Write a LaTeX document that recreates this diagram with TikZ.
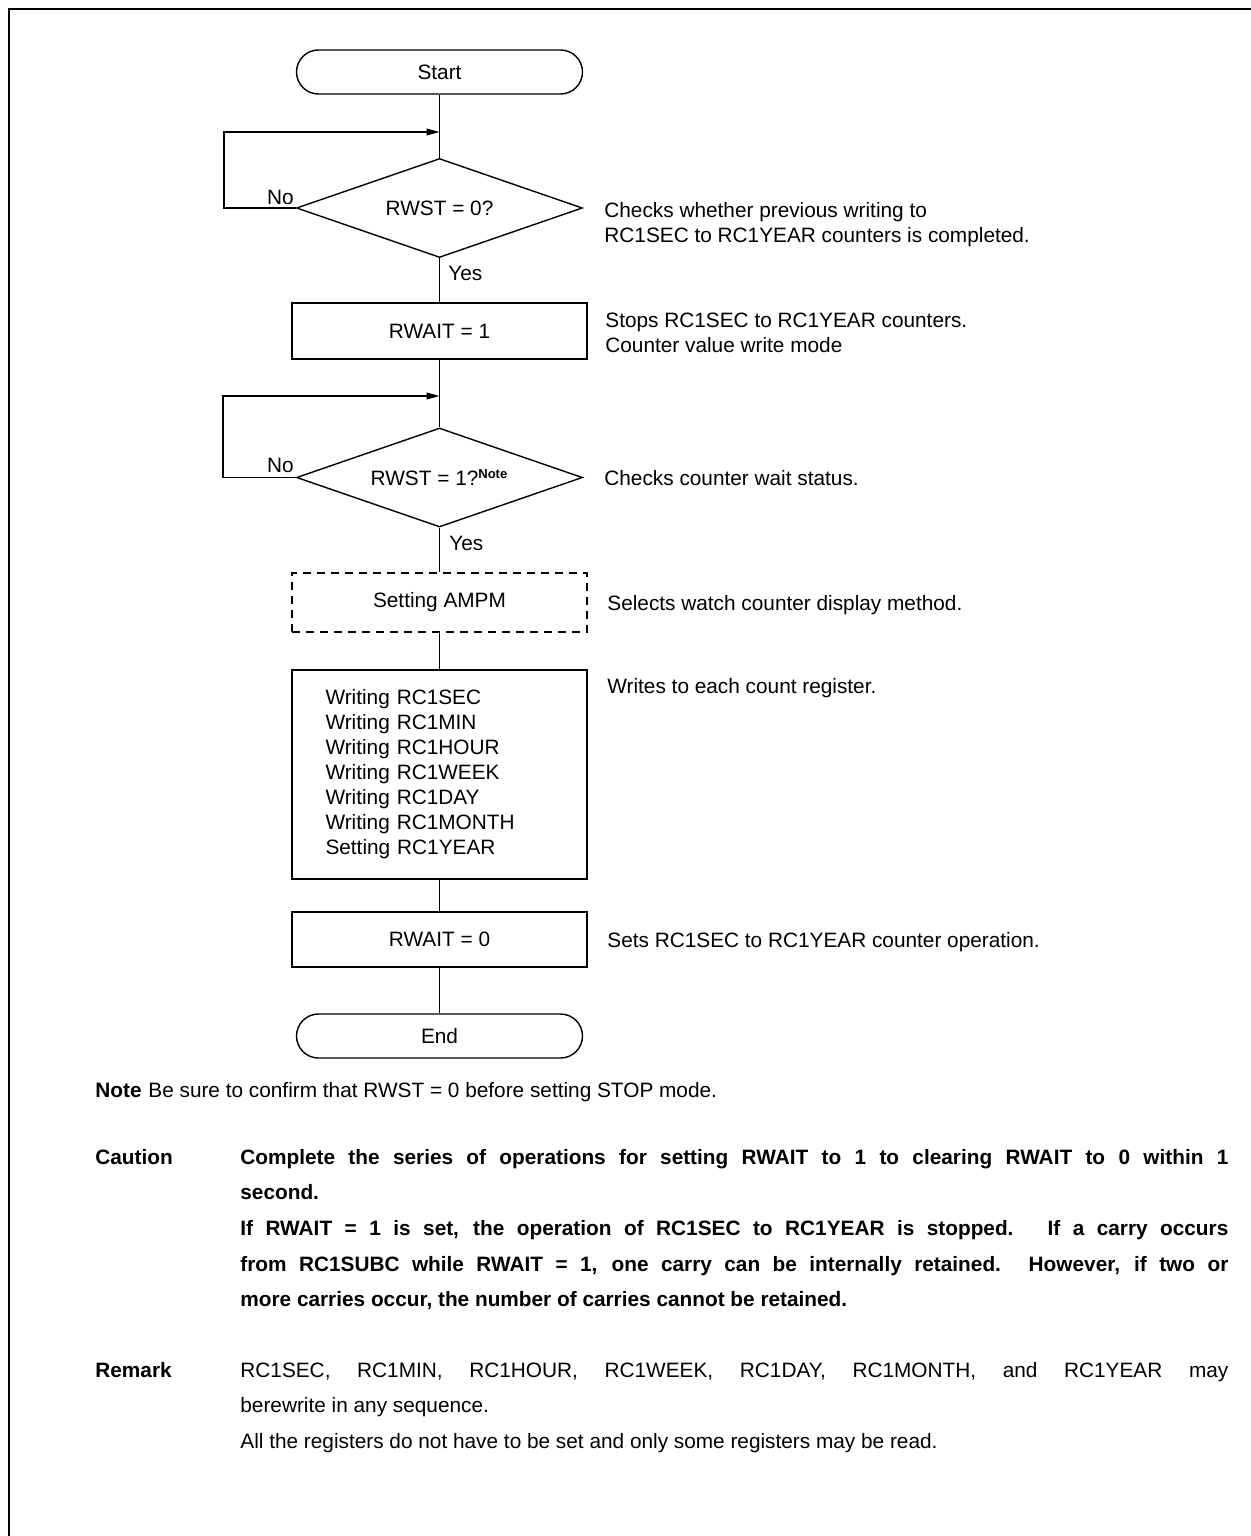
\documentclass[tikz,border=0pt]{standalone}
\usepackage{fontspec}
\setmainfont{Liberation Sans}
\usetikzlibrary{shapes.geometric,arrows.meta,calc}
\begin{document}
\begin{tikzpicture}[x=0.5pt,y=-0.5pt,
  every node/.style={font=\fontsize{10.4}{12.5}\selectfont, inner sep=0pt},
  flow/.style={line width=0.7pt},
  arr/.style={flow, -{Triangle[length=6.5pt,width=3.4pt]}},
  term/.style={draw, flow, minimum width=143pt, minimum height=22pt, rounded corners=11pt},
  dec/.style={draw, flow, diamond, shape aspect=2.9, minimum width=143pt, minimum height=49.5pt},
  proc/.style={draw, flow, minimum width=147.5pt, minimum height=28pt},
  dproc/.style={proc, dash pattern=on 4pt off 3pt, minimum height=29.5pt},
  ann/.style={anchor=base west},
  lbl/.style={anchor=base west, font=\fontsize{10.4}{12.5}\selectfont\bfseries},
  jline/.style={anchor=base west},
  bline/.style={anchor=base west, font=\fontsize{10.4}{12.5}\selectfont\bfseries}
]
\useasboundingbox (0,0) rectangle (1250,1536);
\draw[line width=1pt] (8.5,1560) -- (8.5,9.5) -- (1270,9.5);

% flowchart nodes
\node[term] (start) at (439.5,72) {Start};
\node[dec] (d1) at (439.5,208) {RWST = 0?};
\node[proc] (b1) at (439.5,331) {RWAIT = 1};
\node[dec] (d2) at (439.5,477.5) {RWST = 1?\textsuperscript{\fontsize{6.5}{6.5}\selectfont\bfseries Note}};
\node[dproc] (b2) at (439.5,602.5) {Setting AMPM};
\node[proc, minimum height=104.5pt, text width=114pt, inner xsep=16.75pt, align=left] (b3) at (439.5,774.5)
  {Writing RC1SEC\\Writing RC1MIN\\Writing RC1HOUR\\Writing RC1WEEK\\Writing RC1DAY\\Writing RC1MONTH\\Setting RC1YEAR};
\node[proc, minimum height=27.5pt] (b4) at (439.5,939.5) {RWAIT = 0};
\node[term] (end) at (439.5,1036) {End};

% connectors
\draw[flow] (start.south) -- (d1.north);
\draw[flow] (d1.south) -- (b1.north);
\draw[flow] (b1.south) -- (d2.north);
\draw[flow] (d2.south) -- (b2.north);
\draw[flow] (b2.south) -- (b3.north);
\draw[flow] (b3.south) -- (b4.north);
\draw[flow] (b4.south) -- (end.north);

% loops
\coordinate (c1) at (224,132);
\coordinate (c2) at (223,396);
\draw[arr] (d1.west) -- (d1.west -| c1) -- (c1) -- (c1 -| start.south);
\draw[arr] (d2.west) -- (d2.west -| c2) -- (c2) -- (c2 -| b1.south);

% branch labels
\node[anchor=base east] (no1) at (294,204) {No};
\node[anchor=base west] (yes1) at (448,280) {Yes};
\node[anchor=base east] (no2) at (294,472) {No};
\node[anchor=base west] (yes2) at (449,550) {Yes};

% annotations
\node[ann] (a1a) at (604,217) {Checks whether previous writing to};
\node[ann] (a1b) at (604,242) {RC1SEC to RC1YEAR counters is completed.};
\node[ann] (a2a) at (605,327) {Stops RC1SEC to RC1YEAR counters.};
\node[ann] (a2b) at (605,352) {Counter value write mode};
\node[ann] (a3) at (604,485) {Checks counter wait status.};
\node[ann] (a4) at (607,610) {Selects watch counter display method.};
\node[ann] (a5) at (607,693) {Writes to each count register.};
\node[ann] (a6) at (607,947) {Sets RC1SEC to RC1YEAR counter operation.};

% notes
\node[lbl] (notel) at (95,1097) {Note};
\node[jline] (notet) at (148,1097) {Be sure to confirm that RWST = 0 before setting STOP mode.};

\node[lbl] (cautl) at (95,1164) {Caution};
\node[bline] (c1l) at (240,1164)
  {\makebox[494pt][s]{Complete the series of operations for setting RWAIT to 1 to clearing RWAIT to 0 within 1}};
\node[bline] (c2l) at (240,1199) {second.};
\node[bline] (c3l) at (240,1235)
  {\makebox[494pt][s]{If RWAIT = 1 is set, the operation of RC1SEC to RC1YEAR is stopped.\hspace{0.3em} If a carry occurs}};
\node[bline] (c4l) at (240,1271)
  {\makebox[494pt][s]{from RC1SUBC while RWAIT = 1, one carry can be internally retained. However, if two or}};
\node[bline] (c5l) at (240,1306)
  {more carries occur, the number of carries cannot be retained.};

\node[lbl] (reml) at (95,1377) {Remark};
\node[jline] (r1l) at (240,1377)
  {\makebox[494pt][s]{RC1SEC, RC1MIN, RC1HOUR, RC1WEEK, RC1DAY, RC1MONTH, and RC1YEAR may}};
\node[jline] (r2l) at (240,1412) {berewrite in any sequence.};
\node[jline] (r3l) at (240,1448) {All the registers do not have to be set and only some registers may be read.};
\end{tikzpicture}
\end{document}
